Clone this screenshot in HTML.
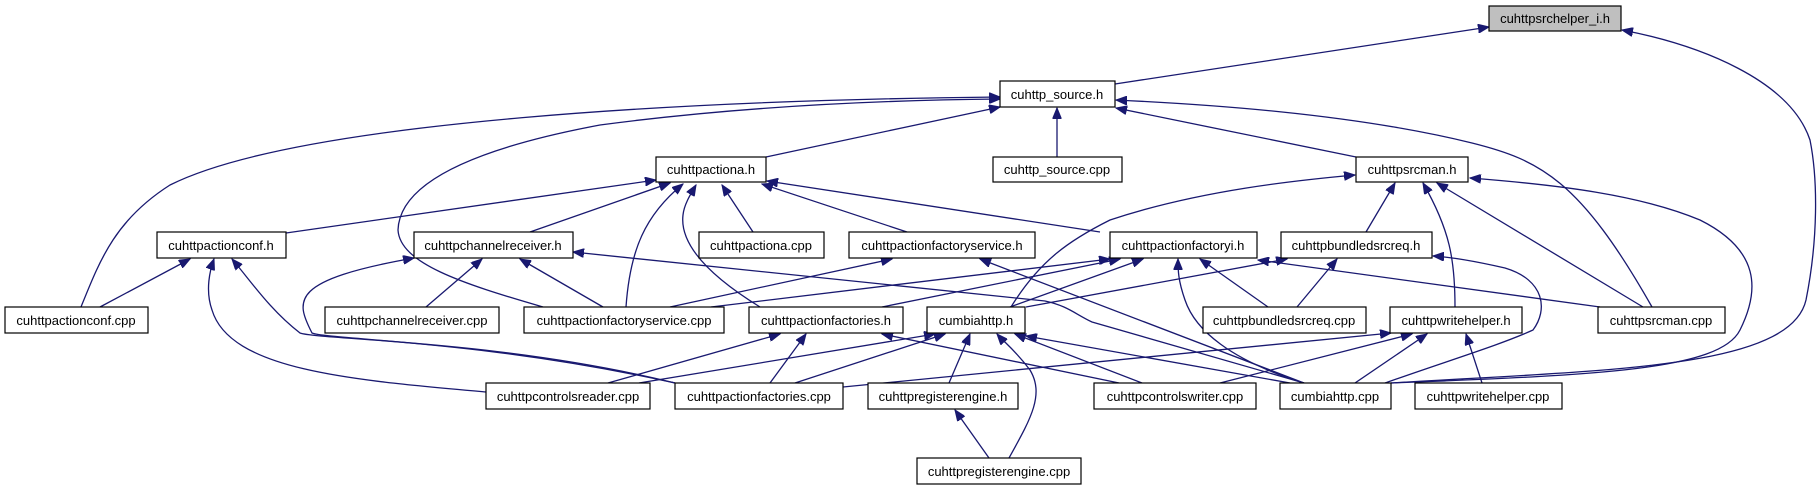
<!DOCTYPE html>
<html><head><meta charset="utf-8"><style>
html,body{margin:0;padding:0;background:#fff;}
svg{display:block;}
text{font-family:"Liberation Sans",Arial,sans-serif;font-size:13px;fill:#000;}
</style></head><body>
<svg width="1819" height="485" viewBox="0 0 1819 485" xmlns="http://www.w3.org/2000/svg">
<defs>
<marker id="a" markerUnits="userSpaceOnUse" markerWidth="12" markerHeight="9" refX="11" refY="4.5" orient="auto">
<path d="M0,0 L11,4.5 L0,9 z" fill="#191970" stroke="#191970"/>
</marker>
</defs>
<g fill="none" stroke="#191970" stroke-width="1.3" marker-end="url(#a)">
<path d="M1115,84 L1489,27"/>
<path d="M1391,383 C1600,370 1790,370 1806,300 C1818,240 1818,180 1810,140 C1790,80 1700,45 1622,30"/>
<path d="M1057,157 L1057,108"/>
<path d="M766,157 L1000,107"/>
<path d="M1356,157 L1116,108"/>
<path d="M1652,307 C1580,180 1540,160 1472,143 C1350,113 1200,104 1116,100"/>
<path d="M81,307 C100,260 115,220 170,185 C300,120 700,100 1000,97"/>
<path d="M543,307 C460,283 400,263 398,230 C400,170 520,140 600,125 C750,105 900,100 1000,99"/>
<path d="M286,233 L656,180"/>
<path d="M530,232 L670,183"/>
<path d="M626,307 C630,250 645,215 683,184"/>
<path d="M760,307 C700,270 680,240 683,215 C684,205 690,195 696,185"/>
<path d="M753,232 L722,185"/>
<path d="M907,232 L762,184"/>
<path d="M1100,232 L767,181"/>
<path d="M100,307 L190,259"/>
<path d="M486,392 C350,380 230,370 212,310 C205,290 210,270 214,259"/>
<path d="M675,383 C500,340 320,340 300,333 C270,310 250,280 232,259"/>
<path d="M426,307 L482,259"/>
<path d="M603,307 L520,259"/>
<path d="M675,383 C480,340 330,340 312,333 C295,300 290,280 414,258"/>
<path d="M1304,383 L1092,322 C1075,314 1068,306 1045,301 L573,252"/>
<path d="M670,307 L892,259"/>
<path d="M1304,383 L980,259"/>
<path d="M711,307 L1110,259"/>
<path d="M882,307 L1120,259"/>
<path d="M1010,307 L1143,259"/>
<path d="M1304,383 C1230,360 1195,330 1185,300 C1178,280 1178,270 1178,259"/>
<path d="M1268,307 L1200,259"/>
<path d="M1600,307 L1258,260"/>
<path d="M1011,307 C1040,260 1070,240 1110,220 C1200,190 1300,180 1355,175"/>
<path d="M1366,232 L1395,183"/>
<path d="M1455,307 C1455,260 1450,230 1423,183"/>
<path d="M1643,307 L1437,183"/>
<path d="M1391,383 C1600,375 1720,370 1740,330 C1760,290 1760,250 1700,220 C1640,195 1560,185 1470,178"/>
<path d="M1026,307 L1287,259"/>
<path d="M1297,307 L1337,259"/>
<path d="M1385,383 C1450,360 1500,345 1533,330 C1548,310 1545,280 1505,268 C1470,260 1450,257 1433,256"/>
<path d="M770,383 L806,334"/>
<path d="M608,383 L780,334"/>
<path d="M639,383 L935,334"/>
<path d="M795,383 L945,334"/>
<path d="M1119,383 L882,334"/>
<path d="M949,383 L970,334"/>
<path d="M1009,458 C1030,420 1045,395 1030,370 C1015,350 1005,343 997,334"/>
<path d="M1142,383 L1015,334"/>
<path d="M1290,383 L1026,336"/>
<path d="M843,387 L1391,333"/>
<path d="M1220,383 L1412,334"/>
<path d="M1355,383 L1427,334"/>
<path d="M1482,383 L1466,334"/>
<path d="M989,458 L955,410"/>
</g>
<g stroke="#000" stroke-width="1.2">
<rect x="1489" y="6" width="132" height="25" fill="#bfbfbf"/>
<rect x="1000" y="81" width="115" height="26" fill="#fff"/>
<rect x="993" y="157" width="129" height="25" fill="#fff"/>
<rect x="656" y="157" width="110" height="25" fill="#fff"/>
<rect x="1356" y="157" width="112" height="25" fill="#fff"/>
<rect x="157" y="232" width="129" height="26" fill="#fff"/>
<rect x="414" y="232" width="159" height="26" fill="#fff"/>
<rect x="699" y="232" width="125" height="26" fill="#fff"/>
<rect x="849" y="232" width="186" height="26" fill="#fff"/>
<rect x="1110" y="232" width="147" height="26" fill="#fff"/>
<rect x="1281" y="232" width="151" height="26" fill="#fff"/>
<rect x="5" y="307" width="143" height="26" fill="#fff"/>
<rect x="325" y="307" width="174" height="26" fill="#fff"/>
<rect x="524" y="307" width="200" height="26" fill="#fff"/>
<rect x="749" y="307" width="154" height="26" fill="#fff"/>
<rect x="927" y="307" width="98" height="26" fill="#fff"/>
<rect x="1203" y="307" width="163" height="26" fill="#fff"/>
<rect x="1390" y="307" width="132" height="26" fill="#fff"/>
<rect x="1598" y="307" width="127" height="26" fill="#fff"/>
<rect x="486" y="383" width="164" height="26" fill="#fff"/>
<rect x="675" y="383" width="168" height="26" fill="#fff"/>
<rect x="868" y="383" width="150" height="26" fill="#fff"/>
<rect x="1094" y="383" width="162" height="26" fill="#fff"/>
<rect x="1280" y="383" width="111" height="26" fill="#fff"/>
<rect x="1415" y="383" width="147" height="26" fill="#fff"/>
<rect x="917" y="458" width="164" height="26" fill="#fff"/>
</g>
<g text-anchor="middle">
<text x="1555" y="23">cuhttpsrchelper_i.h</text>
<text x="1057" y="99">cuhttp_source.h</text>
<text x="1057" y="174">cuhttp_source.cpp</text>
<text x="711" y="174">cuhttpactiona.h</text>
<text x="1412" y="174">cuhttpsrcman.h</text>
<text x="221" y="250">cuhttpactionconf.h</text>
<text x="493" y="250">cuhttpchannelreceiver.h</text>
<text x="761" y="250">cuhttpactiona.cpp</text>
<text x="942" y="250">cuhttpactionfactoryservice.h</text>
<text x="1183" y="250">cuhttpactionfactoryi.h</text>
<text x="1356" y="250">cuhttpbundledsrcreq.h</text>
<text x="76" y="325">cuhttpactionconf.cpp</text>
<text x="412" y="325">cuhttpchannelreceiver.cpp</text>
<text x="624" y="325">cuhttpactionfactoryservice.cpp</text>
<text x="826" y="325">cuhttpactionfactories.h</text>
<text x="976" y="325">cumbiahttp.h</text>
<text x="1284" y="325">cuhttpbundledsrcreq.cpp</text>
<text x="1456" y="325">cuhttpwritehelper.h</text>
<text x="1661" y="325">cuhttpsrcman.cpp</text>
<text x="568" y="401">cuhttpcontrolsreader.cpp</text>
<text x="759" y="401">cuhttpactionfactories.cpp</text>
<text x="943" y="401">cuhttpregisterengine.h</text>
<text x="1175" y="401">cuhttpcontrolswriter.cpp</text>
<text x="1335" y="401">cumbiahttp.cpp</text>
<text x="1488" y="401">cuhttpwritehelper.cpp</text>
<text x="999" y="476">cuhttpregisterengine.cpp</text>
</g>
</svg>
</body></html>
